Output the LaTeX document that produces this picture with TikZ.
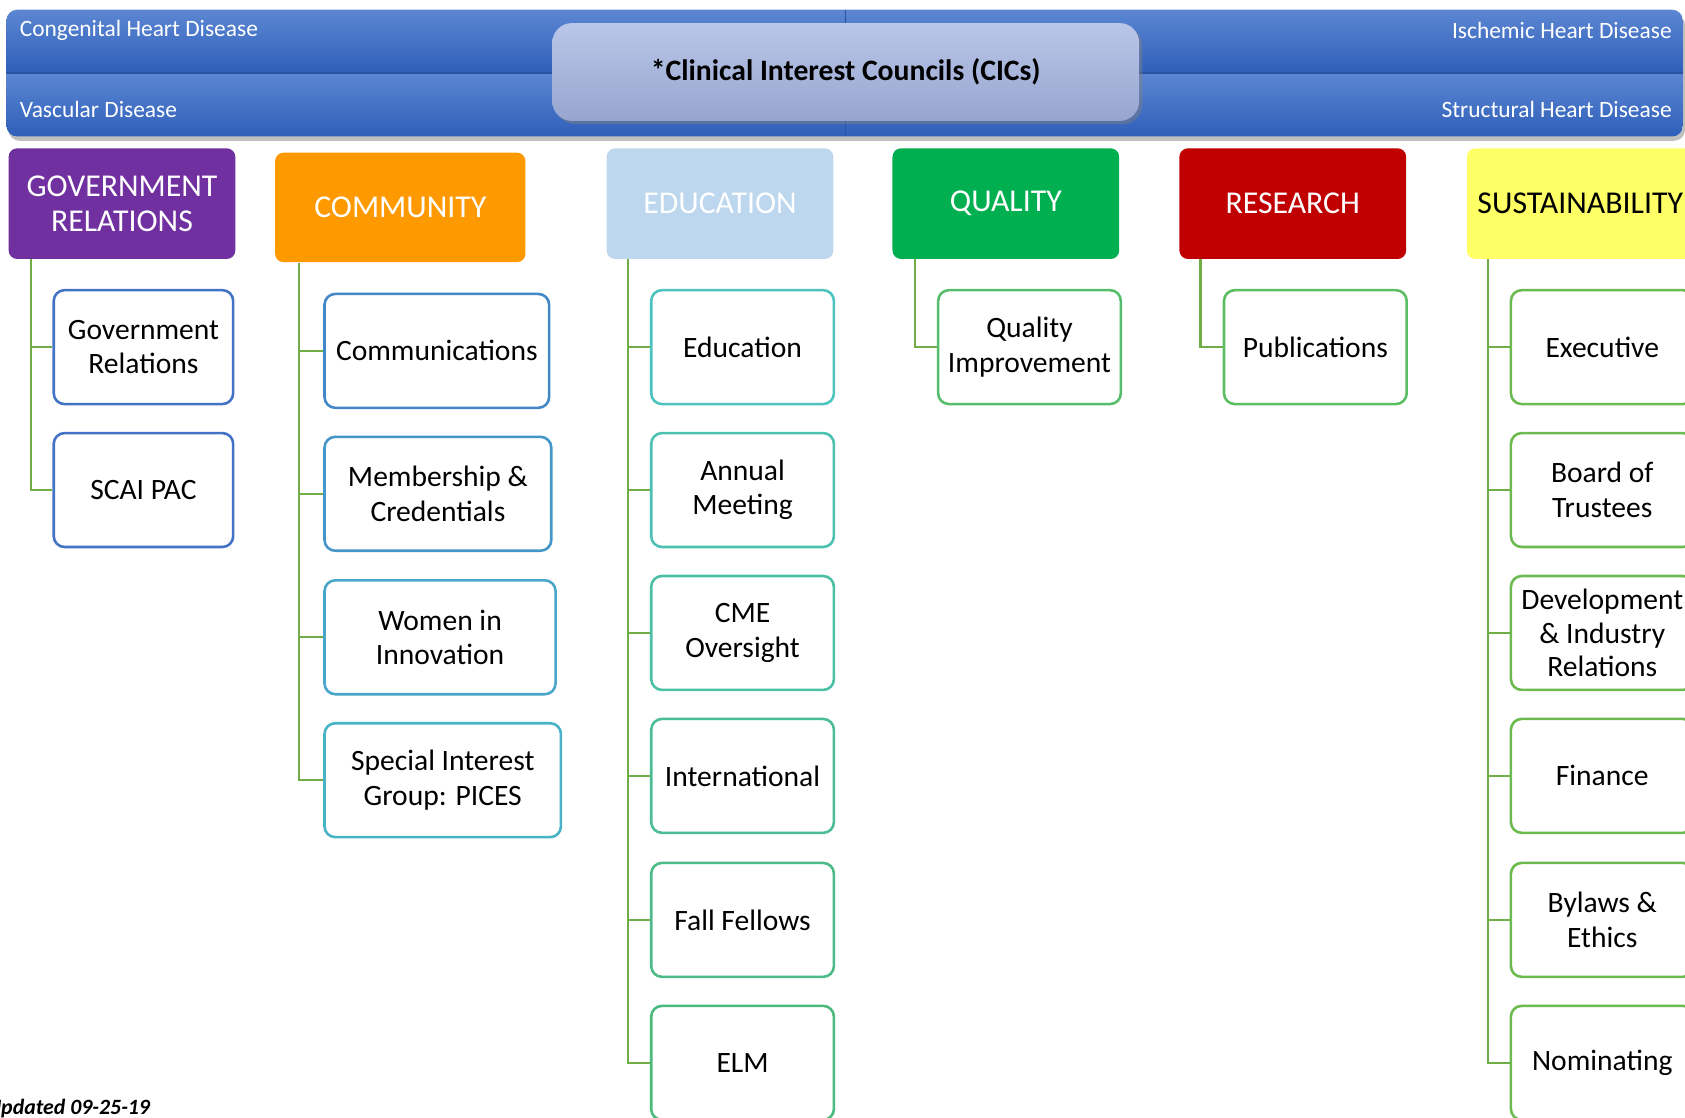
\documentclass[tikz,border=0pt]{standalone}
\usepackage{fontspec}
\setmainfont{Carlito}
\usetikzlibrary{shadows}
\definecolor{banTop}{HTML}{5C86D2}
\definecolor{banBot}{HTML}{2E5FB9}
\definecolor{banLine}{HTML}{2A529E}
\definecolor{cicTop}{HTML}{BAC6E8}
\definecolor{cicBot}{HTML}{97A5CF}
\definecolor{grPurple}{HTML}{7030A0}
\definecolor{comOrange}{HTML}{FF9900}
\definecolor{eduBlue}{HTML}{BDD7EE}
\definecolor{qualGreen}{HTML}{00B050}
\definecolor{resRed}{HTML}{C00000}
\definecolor{susYellow}{HTML}{FFFF66}
\definecolor{connGreen}{HTML}{70AD47}
\definecolor{bGR}{HTML}{4472C4}
\definecolor{bCa}{HTML}{4287C6}
\definecolor{bCb}{HTML}{4596C8}
\definecolor{bCc}{HTML}{47A6C9}
\definecolor{bCd}{HTML}{48B3C6}
\definecolor{bEa}{HTML}{4CC3BE}
\definecolor{bEb}{HTML}{4CC1B2}
\definecolor{bEc}{HTML}{4CBFA4}
\definecolor{bEd}{HTML}{4CBD96}
\definecolor{bEe}{HTML}{4CBB88}
\definecolor{bEf}{HTML}{4CBA7C}
\definecolor{bQ}{HTML}{55BD6C}
\definecolor{bR}{HTML}{5CBE62}
\definecolor{bS}{HTML}{6CBA50}
\tikzset{
  bantext/.style={text=white, inner sep=0pt, font=\fontsize{10.9}{13}\selectfont},
  hdr/.style={rounded corners=4pt, align=center, inner sep=0pt,
    minimum width=105.5pt, minimum height=51.5pt, font=\fontsize{14.8}{16}\selectfont},
  cbox/.style={draw, line width=1.2pt, rounded corners=5pt, fill=white, align=center,
    inner sep=0pt, minimum height=53pt, font=\fontsize{13.75}{16}\selectfont},
  conn/.style={draw=connGreen, line width=1pt}
}
\begin{document}
\begin{tikzpicture}[x=0.5pt,y=-0.5pt]
\useasboundingbox (0,0) rectangle (1568,1040);
% banner
\fill[black, opacity=0.25, rounded corners=5pt] (8,13) rectangle (1568,131);
\begin{scope}
\clip[rounded corners=5pt] (6,9) rectangle (1566,127);
\shade[top color=banTop, bottom color=banBot] (6,9) rectangle (1566,68);
\shade[top color=banTop, bottom color=banBot] (6,68) rectangle (1566,127);
\draw[banLine, line width=0.6pt] (6,68) -- (1566,68);
\draw[banLine, line width=0.6pt] (787,9) -- (787,127);
\end{scope}
\node[bantext, anchor=west] (chd) at (18,28) {Congenital Heart Disease};
\node[bantext, anchor=west] (vd) at (18,102) {Vascular Disease};
\node[bantext, anchor=east] (ihd) at (1556,28) {Ischemic Heart Disease};
\node[bantext, anchor=east] (shd) at (1556,102) {Structural Heart Disease};
\node[rounded corners=9pt, top color=cicTop, bottom color=cicBot, minimum width=273pt,
  minimum height=45.5pt, inner sep=0pt, drop shadow={opacity=0.45, shadow xshift=1.5pt, shadow yshift=-1.5pt},
  font=\bfseries\fontsize{13.8}{16}\selectfont] (cic) at (787,67) {*Clinical Interest Councils (CICs)};
% headers
\node[hdr, fill=grPurple, text=white] (gr) at (113.5,189.5) {GOVERNMENT\\RELATIONS};
\node[hdr, fill=comOrange, text=white, minimum width=116.5pt, minimum height=51pt] (com) at (372.5,193) {COMMUNITY};
\node[hdr, fill=eduBlue, text=white] (edu) at (670,189.5) {EDUCATION};
\node[hdr, fill=qualGreen, text=white] (qual) at (936,189.5) {QUALITY};
\node[hdr, fill=resRed, text=white] (res) at (1203,189.5) {RESEARCH};
\node[hdr, fill=susYellow, text=black] (sus) at (1470.5,189.5) {SUSTAINABILITY};
% children: government relations
\node[cbox, draw=bGR, minimum width=83.5pt] (gr1) at (133.5,323) {Government\\Relations};
\node[cbox, draw=bGR, minimum width=83.5pt] (gr2) at (133.5,456) {SCAI PAC};
% community
\node[cbox, draw=bCa, minimum width=104.5pt] (com1) at (406.5,326.5) {Communications};
\node[cbox, draw=bCb, minimum width=105.5pt] (com2) at (407.5,459.5) {Membership \&\\Credentials};
\node[cbox, draw=bCc, minimum width=107.5pt] (com3) at (409.5,593) {Women in\\Innovation};
\node[cbox, draw=bCd, minimum width=110pt] (com4) at (412,726) {Special Interest\\Group: PICES};
% education
\node[cbox, draw=bEa, minimum width=85pt] (edu1) at (691,323) {Education};
\node[cbox, draw=bEb, minimum width=85pt] (edu2) at (691,456) {Annual\\Meeting};
\node[cbox, draw=bEc, minimum width=85pt] (edu3) at (691,589) {CME\\Oversight};
\node[cbox, draw=bEd, minimum width=85pt] (edu4) at (691,722) {International};
\node[cbox, draw=bEe, minimum width=85pt] (edu5) at (691,856) {Fall Fellows};
\node[cbox, draw=bEf, minimum width=85pt] (edu6) at (691,989) {ELM};
% quality, research
\node[cbox, draw=bQ, minimum width=85pt] (q1) at (958,323) {Quality\\Improvement};
\node[cbox, draw=bR, minimum width=85pt] (r1) at (1224,323) {Publications};
% sustainability
\node[cbox, draw=bS, minimum width=85pt] (s1) at (1491,323) {Executive};
\node[cbox, draw=bS, minimum width=85pt] (s2) at (1491,456) {Board of\\Trustees};
\node[cbox, draw=bS, minimum width=85pt, font=\fontsize{13.75}{15.5}\selectfont] (s3) at (1491,589) {Development\\\& Industry\\Relations};
\node[cbox, draw=bS, minimum width=85pt] (s4) at (1491,722) {Finance};
\node[cbox, draw=bS, minimum width=85pt] (s5) at (1491,856) {Bylaws \&\\Ethics};
\node[cbox, draw=bS, minimum width=85pt] (s6) at (1491,989) {Nominating};
% connectors
\coordinate (grl) at ([xshift=10.5pt]gr.south west);
\coordinate (coml) at ([xshift=11.5pt]com.south west);
\coordinate (edul) at ([xshift=10pt]edu.south west);
\coordinate (qual_l) at ([xshift=10.5pt]qual.south west);
\coordinate (resl) at ([xshift=10pt]res.south west);
\coordinate (susl) at ([xshift=10pt]sus.south west);
\foreach \c in {gr1,gr2} \draw[conn] (grl) |- (\c.west);
\foreach \c in {com1,com2,com3,com4} \draw[conn] (coml) |- (\c.west);
\foreach \c in {edu1,edu2,edu3,edu4,edu5,edu6} \draw[conn] (edul) |- (\c.west);
\draw[conn] (qual_l) |- (q1.west);
\draw[conn] (resl) |- (r1.west);
\foreach \c in {s1,s2,s3,s4,s5,s6} \draw[conn] (susl) |- (\c.west);
% footnote
\node[anchor=base east, inner sep=0pt, font=\bfseries\itshape\fontsize{10.15}{12}\selectfont] (upd) at (140,1037) {Updated 09-25-19};
\end{tikzpicture}
\end{document}
